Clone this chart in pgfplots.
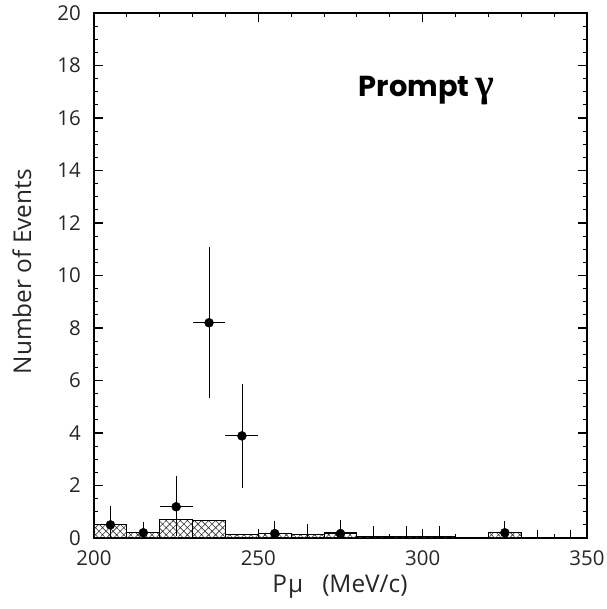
\documentclass[border=0pt]{standalone}
\usepackage{fontspec}
\usepackage{pgfplots}
\pgfplotsset{compat=1.18}
\usetikzlibrary{patterns.meta}
\setmainfont{Open Sans}
\newfontfamily\titlefont{Poppins}
\newfontfamily\gfont{Liberation Serif}
\begin{document}
\begin{tikzpicture}
\path[use as bounding box] (-94bp,-71bp) rectangle (513bp,538bp);
\begin{axis}[
  scale only axis,
  width=493bp, height=525bp,
  xmin=200, xmax=350, ymin=0, ymax=20,
  xtick={200,250,300,350}, ytick={0,2,...,20},
  minor x tick num=4, minor y tick num=3,
  tick align=inside,
  major tick length=9bp, minor tick length=4.5bp,
  axis line style={line width=1.4pt},
  every tick/.style={black, line width=1.1pt},
  tick label style={font=\fontsize{20.5}{22}\selectfont, text=black!85, inner sep=1bp},
  /pgf/number format/assume math mode=true,
  xticklabel style={yshift=-11bp},
  yticklabel style={xshift=-12bp},
  xlabel={P\kern1pt μ\ \ \ (MeV/c)},
  ylabel={Number of Events},
  label style={font=\fontsize{24.5}{26}\selectfont, text=black!85},
  xlabel style={at={(axis description cs:0.499,-0.092)}, anchor=center},
  ylabel style={at={(axis description cs:-0.146,0.507)}, anchor=center},
  clip=false,
]
% background histogram (hatched)
\addplot[ybar interval, draw=black, line width=1pt,
  pattern={Hatch[angle=45,distance=5bp,line width=0.6pt]}, pattern color=black!80]
  coordinates {(200,0.52) (210,0.20) (220,0.72) (230,0.65) (240,0.13) (250,0.17)
   (260,0.13) (270,0.20) (280,0.07) (290,0.07) (300,0.07) (310,0.0) (320,0.20)
   (330,0.0) (340,0.0) (350,0.0)};
% data points
\addplot[only marks, mark=*, mark size=4.5bp, black,
  error bars/.cd, x dir=both, x explicit, y dir=both, y explicit,
  error bar style={line width=0.8pt, black}, error mark=none]
  table[x=x, y=y, x error=ex, y error plus=ep, y error minus=em] {
  x   y     ex  ep    em
  205 0.50  5   0.72  0.50
  215 0.20  5   0.42  0.20
  225 1.19  5   1.16  1.10
  235 8.20  5   2.90  2.87
  245 3.89  5   1.98  1.99
  255 0.17  5   0.48  0.17
  275 0.17  5   0.51  0.17
  325 0.20  5   0.45  0.20
  };
% empty bins: upper error only
\addplot[only marks, mark=*, mark size=0pt, black,
  error bars/.cd, y dir=plus, y explicit,
  error bar style={line width=0.8pt, black}, error mark=none]
  table[x=x, y=y, y error plus=ep] {
  x   y  ep
  265 0  0.53
  285 0  0.46
  295 0  0.46
  305 0  0.46
  335 0  0.30
  345 0  0.30
  };
\node[anchor=base west, inner sep=0pt, font=\titlefont\bfseries\fontsize{29}{32}\selectfont]
  at (rel axis cs:0.537,0.84) {Prompt\ {\gfont\bfseries\fontsize{40}{42}\selectfont γ}};
\end{axis}
\end{tikzpicture}
\end{document}
